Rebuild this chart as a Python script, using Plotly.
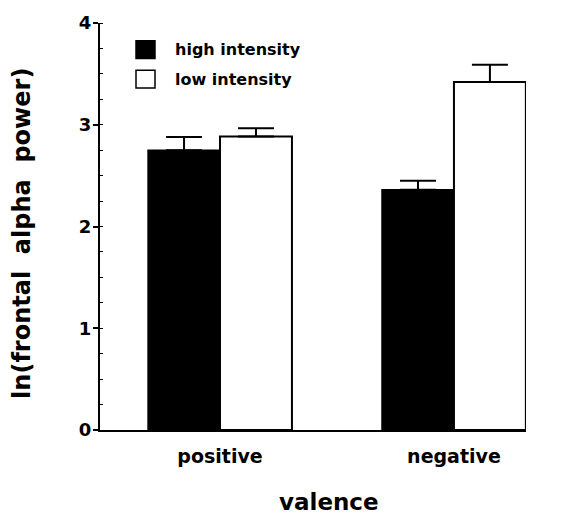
import plotly.graph_objects as go

categories = ["positive", "negative"]
series_names = ["high intensity", "low intensity"]
high_values = [2.75, 2.36]
high_err = [0.13, 0.09]
low_values = [2.885, 3.42]
low_err = [0.08, 0.17]
y_ticks = [0, 1, 2, 3, 4]

FONT = "DejaVu Sans"
W, H = 563, 519
L, R, T, B = 100, 37, 17, 89
PW, PH = W - L - R, H - T - B

def px_x(x):
    return (x - L) / PW

def px_y(y):
    return (H - B - y) / PH

def bold(size):
    return dict(family=FONT, size=size, color="black", weight="bold")

fig = go.Figure()
fig.add_trace(go.Bar(
    x=categories, y=high_values, name=series_names[0],
    marker=dict(color="black", line=dict(color="black", width=1.5)),
    error_y=dict(type="data", symmetric=False, array=high_err,
                 arrayminus=[0] * len(high_err), color="black",
                 thickness=2, width=18),
    showlegend=False,
))
fig.add_trace(go.Bar(
    x=categories, y=low_values, name=series_names[1],
    marker=dict(color="white", line=dict(color="black", width=2)),
    error_y=dict(type="data", symmetric=False, array=low_err,
                 arrayminus=[0] * len(low_err), color="black",
                 thickness=2, width=18),
    showlegend=False,
))

# legend keys
fills = ["black", "white"]
key_tops = [35, 65]
for name, fill, top in zip(series_names, fills, key_tops):
    fig.add_shape(type="rect", xref="paper", yref="paper",
                  x0=px_x(136), x1=px_x(155), y0=px_y(top), y1=px_y(top + 18),
                  fillcolor=fill, line=dict(color="black", width=1.5))
    fig.add_annotation(text=name, xref="paper", yref="paper",
                       x=px_x(173), y=px_y(top + 9), xanchor="left",
                       yanchor="middle", showarrow=False, font=bold(16))

fig.add_annotation(text="valence", xref="paper", yref="paper",
                   x=px_x(329), y=px_y(503), xanchor="center", yanchor="middle",
                   showarrow=False, font=bold(23))
fig.add_annotation(text="ln(frontal\u00a0 alpha\u00a0 power)", xref="paper", yref="paper",
                   x=px_x(22), y=px_y(231), xanchor="center", yanchor="middle",
                   textangle=-90, showarrow=False, font=bold(24))

fig.update_layout(
    width=W, height=H,
    margin=dict(l=L, r=R, t=T, b=B, pad=0),
    paper_bgcolor="white", plot_bgcolor="white",
    barmode="group", bargap=0.385, bargroupgap=0,
    font=dict(family=FONT, color="black"),
)
fig.update_xaxes(
    type="category", range=[-0.513, 1.308],
    showline=True, linecolor="black", linewidth=2,
    showgrid=False, ticks="", zeroline=False,
    tickfont=bold(19),
    ticklabelstandoff=8,
)
fig.update_yaxes(
    range=[0, 4], tickvals=y_ticks, ticktext=[str(v) for v in y_ticks],
    showline=True, linecolor="black", linewidth=2,
    showgrid=False, zeroline=False,
    ticks="outside", ticklen=5, tickwidth=2, tickcolor="black",
    tickfont=bold(18), ticklabelstandoff=-2,
    minor=dict(dtick=0.25, ticks="inside", ticklen=3, tickwidth=1, tickcolor="black", showgrid=False),
)

fig.write_html("out.html", config={"displayModeBar": False},
               post_script="document.body.style.margin='0';document.body.style.overflow='hidden';")
